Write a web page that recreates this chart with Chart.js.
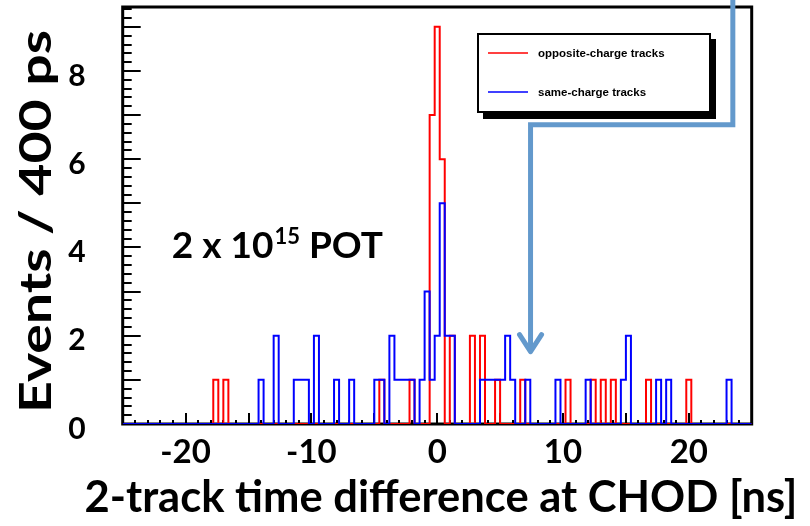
<!DOCTYPE html>
<html>
<head>
<meta charset="utf-8">
<script src="https://cdn.jsdelivr.net/npm/chart.js@4/dist/chart.umd.min.js"></script>
<style>
  html, body { margin: 0; padding: 0; background: #ffffff; }
  #wrap { width: 810px; height: 526px; position: relative; }
  canvas { display: block; }
</style>
</head>
<body>
<div id="wrap"><canvas id="c" width="810" height="526" style="width:810px;height:526px"></canvas></div>
<script>
// ---------------- data ----------------
const histMin = -25;          // ns, lower edge of the first bin
const histMax = 25;           // ns, upper edge of the last bin
const binWidth = 0.4;         // ns (400 ps)

// entries per 400 ps bin, 125 bins from -25 ns to +25 ns
const oppositeCounts = [
  0,0,0,0,0, 0,0,0,0,0, 0,0,0,0,0, 0,0,0,1,0, 1,0,0,0,0,
  0,0,0,0,0, 0,0,0,0,0, 0,0,0,0,0, 0,0,0,0,0, 0,0,0,0,0,
  0,1,0,0,0, 0,0,1,0,0, 0,7,9,6,0, 2,0,0,0,2, 0,2,0,0,1,
  0,0,0,0,1, 0,0,0,0,0, 0,0,0,1,0, 0,0,0,1,0, 1,0,1,0,0,
  0,0,0,0,1, 0,0,0,0,0, 0,0,1,0,0, 0,0,0,0,0, 0,0,0,0,0
];
const sameCounts = [
  0,0,0,0,0, 0,0,0,0,0, 0,0,0,0,0, 0,0,0,0,0, 0,0,0,0,0,
  0,0,1,0,0, 2,0,0,0,1, 1,1,0,2,0, 0,0,1,0,0, 1,0,0,0,0,
  1,1,0,2,1, 1,1,1,0,1, 3,1,2,5,2, 2,0,0,0,0, 0,1,1,1,1,
  1,2,1,0,0, 1,0,0,0,0, 0,1,0,0,0, 0,0,1,0,0, 0,0,0,0,1,
  2,0,0,0,0, 0,1,0,1,0, 0,0,0,0,0, 0,0,0,0,0, 1,0,0,0,0
];

const seriesLabels = ['opposite-charge tracks', 'same-charge tracks'];
const seriesColors = ['#ff0000', '#0000ff'];

const xTickValues = [-20, -10, 0, 10, 20];
const yTickValues = [0, 2, 4, 6, 8];
const yAxisMax = 9.45;

const xTitle = '2-track time difference at CHOD [ns]';
const yTitle = 'Events / 400 ps';

// annotation text and arrow, placed in data coordinates
const potText = { main: '2 x 10', sup: '15', tail: ' POT', x: -21.1, y: 3.77 };
const arrowPath = [[23.5, 9.75], [23.5, 6.78], [7.42, 6.78], [7.42, 1.64]];

// --------------- build histogram outlines from the bins ---------------
function histPoints(counts) {
  const pts = counts.map((c, k) => ({ x: histMin + k * binWidth, y: c }));
  pts.push({ x: histMax, y: counts[counts.length - 1] });
  return pts;
}

function stretchedText(ctx, text, cx, cy, font, targetWidth, rotate, baseline) {
  ctx.save();
  ctx.translate(cx, cy);
  if (rotate) ctx.rotate(-Math.PI / 2);
  ctx.font = font;
  const w = ctx.measureText(text).width;
  ctx.scale(targetWidth / w, 1);
  ctx.fillStyle = '#000';
  ctx.textAlign = 'center';
  ctx.textBaseline = baseline;
  ctx.fillText(text, 0, 0);
  ctx.restore();
}

// --------------- plugins ---------------
const frameAndTicks = {
  id: 'frameAndTicks',
  beforeDatasetsDraw(chart) {
    const { ctx, chartArea: a, scales: { x, y } } = chart;
    ctx.save();
    ctx.strokeStyle = '#000';
    ctx.lineWidth = 2;
    ctx.beginPath();
    for (let i = 0; i <= Math.floor(yAxisMax / 0.2 + 1e-6); i++) {
      const v = i * 0.2;
      const py = Math.round(y.getPixelForValue(v));
      const len = (i % 5 === 0) ? 18 : 9;
      ctx.moveTo(a.left, py);
      ctx.lineTo(a.left + len, py);
    }
    for (let v = histMin; v <= histMax; v += 1) {
      const px = Math.round(x.getPixelForValue(v));
      const len = (v % 5 === 0) ? 11 : 4;
      ctx.moveTo(px, a.bottom);
      ctx.lineTo(px, a.bottom - len);
    }
    ctx.stroke();
    ctx.lineWidth = 3;
    ctx.strokeRect(a.left, a.top, a.right - a.left, a.bottom - a.top);
    ctx.restore();
  },
  afterDraw(chart) {
    const { ctx, chartArea: a, scales: { x, y } } = chart;

    // axis titles
    stretchedText(ctx, yTitle, 37, (a.top + a.bottom) / 2 + 6, 'bold 43px Lato', 383, true, 'middle');
    stretchedText(ctx, xTitle, 441, 512, 'bold 43px Lato', 713, false, 'alphabetic');

    // "2 x 10^15 POT"
    ctx.save();
    ctx.fillStyle = '#000';
    ctx.textBaseline = 'alphabetic';
    ctx.textAlign = 'left';
    let tx = x.getPixelForValue(potText.x);
    const ty = y.getPixelForValue(potText.y);
    ctx.font = 'bold 37px Lato';
    ctx.fillText(potText.main, tx, ty);
    tx += ctx.measureText(potText.main).width;
    ctx.font = 'bold 22px Lato';
    ctx.fillText(potText.sup, tx + 1, ty - 14);
    tx += ctx.measureText(potText.sup).width + 1;
    ctx.font = 'bold 37px Lato';
    ctx.fillText(potText.tail, tx, ty);
    ctx.restore();

    // arrow
    ctx.save();
    ctx.strokeStyle = '#6399cc';
    ctx.lineWidth = 5;
    ctx.lineJoin = 'miter';
    ctx.beginPath();
    arrowPath.forEach((p, i) => {
      const px = x.getPixelForValue(p[0]);
      const py = i === 0 ? 0 : y.getPixelForValue(p[1]);
      if (i === 0) ctx.moveTo(px, py); else ctx.lineTo(px, py);
    });
    ctx.stroke();
    const tip = arrowPath[arrowPath.length - 1];
    const tpx = x.getPixelForValue(tip[0]);
    const tpy = y.getPixelForValue(tip[1]);
    ctx.lineCap = 'round';
    ctx.lineJoin = 'round';
    ctx.beginPath();
    ctx.moveTo(tpx - 11, tpy - 17);
    ctx.lineTo(tpx, tpy);
    ctx.lineTo(tpx + 11, tpy - 17);
    ctx.stroke();
    ctx.restore();

    // legend box with shadow
    ctx.save();
    const bx = 478, by = 34, bw = 232, bh = 78;
    ctx.fillStyle = '#000';
    ctx.fillRect(bx + 5, by + 5, bw + 1, bh + 2);
    ctx.fillStyle = '#fff';
    ctx.fillRect(bx, by, bw, bh);
    ctx.strokeStyle = '#000';
    ctx.lineWidth = 2;
    ctx.strokeRect(bx, by, bw, bh);
    ctx.font = 'bold 11.5px "Liberation Sans"';
    ctx.textBaseline = 'middle';
    ctx.textAlign = 'left';
    const rows = [by + 19, by + 58];
    chart.data.datasets.forEach((ds, i) => {
      ctx.strokeStyle = ds.borderColor;
      ctx.lineWidth = 1.5;
      ctx.beginPath();
      ctx.moveTo(bx + 10, rows[i]);
      ctx.lineTo(bx + 50, rows[i]);
      ctx.stroke();
      ctx.fillStyle = '#000';
      ctx.fillText(ds.label, bx + 60, rows[i] + 1);
    });
    ctx.restore();
  }
};

// --------------- chart ---------------
const tickFont = { family: 'Lato', weight: 'bold' };

new Chart(document.getElementById('c'), {
  type: 'line',
  data: {
    datasets: [
      {
        label: seriesLabels[0],
        data: histPoints(oppositeCounts),
        borderColor: seriesColors[0],
        borderWidth: 2,
        stepped: 'before',
        pointRadius: 0,
        fill: false,
        order: 1
      },
      {
        label: seriesLabels[1],
        data: histPoints(sameCounts),
        borderColor: seriesColors[1],
        borderWidth: 2,
        stepped: 'before',
        pointRadius: 0,
        fill: false,
        order: 0
      }
    ]
  },
  options: {
    responsive: false,
    maintainAspectRatio: false,
    animation: false,
    devicePixelRatio: 1,
    layout: { padding: { left: 0, right: 58.3, top: 7, bottom: 0 } },
    plugins: { legend: { display: false }, tooltip: { enabled: false } },
    scales: {
      x: {
        type: 'linear',
        min: histMin,
        max: histMax,
        afterBuildTicks: s => { s.ticks = xTickValues.map(v => ({ value: v })); },
        afterFit: s => { s.height = 102; s.paddingLeft = 0; s.paddingRight = 0; },
        grid: { display: false, drawTicks: false },
        border: { display: false },
        ticks: {
          font: { ...tickFont, size: 33 },
          color: '#000',
          padding: 9,
          maxRotation: 0,
          autoSkip: false
        }
      },
      y: {
        type: 'linear',
        min: 0,
        max: yAxisMax,
        afterBuildTicks: s => { s.ticks = yTickValues.map(v => ({ value: v })); },
        afterFit: s => { s.width = 122.7; s.paddingTop = 0; s.paddingBottom = 0; },
        grid: { display: false, drawTicks: false },
        border: { display: false },
        ticks: {
          font: { ...tickFont, size: 30 },
          color: '#000',
          padding: 37,
          labelOffset: 5
        }
      }
    }
  },
  plugins: [frameAndTicks]
});
</script>
</body>
</html>
